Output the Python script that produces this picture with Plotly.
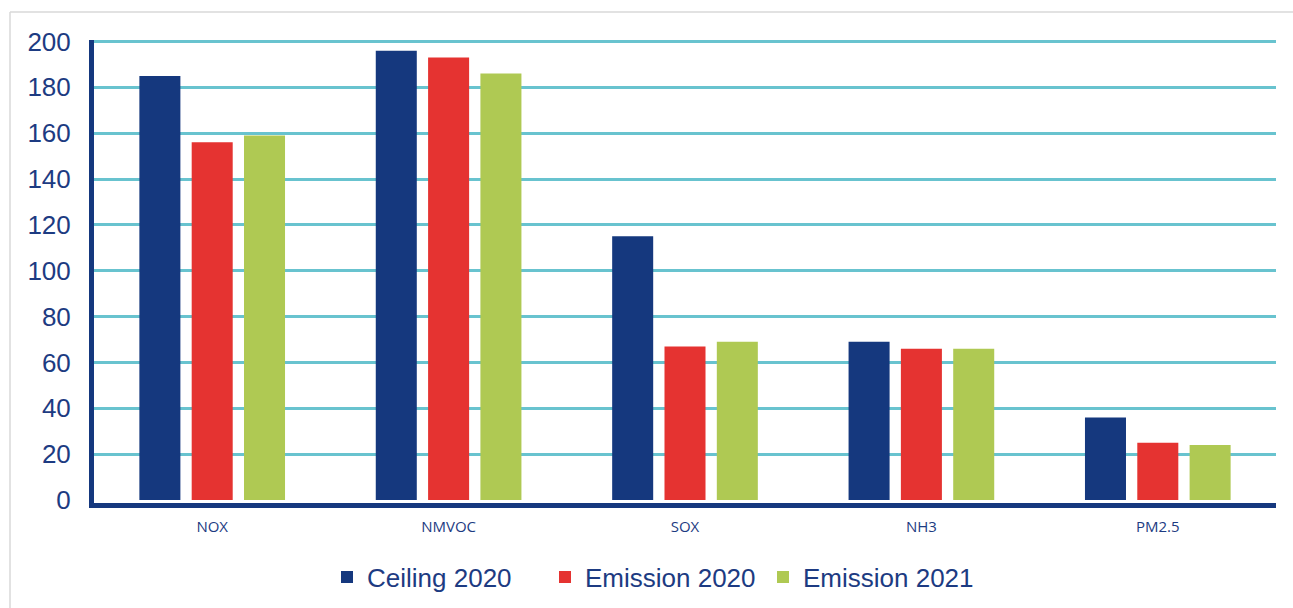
import plotly.graph_objects as go

# Pollutants and national emission figures (kt)
pollutants = ["NOX", "NMVOC", "SOX", "NH3", "PM2.5"]
ceiling_2020 = [185, 196, 115, 69, 36]
emission_2020 = [156, 193, 67, 66, 25]
emission_2021 = [159, 186, 69, 66, 24]

y_ticks = [0, 20, 40, 60, 80, 100, 120, 140, 160, 180, 200]

NAVY = "#15387e"
RED = "#e53331"
GREEN = "#afc953"
TEAL = "#68c3cf"
TEXT = "#1d3b82"

W, H = 1293, 608
L, R, T, B = 94, 17, 40, 105
plot_h = H - T - B
plot_w = W - L - R

# value axis: 200 sits at y=41.5px, 0 at y=500px, plot bottom at 503px
px_per_unit = (500 - 41.5) / 200
y_top = 200 + (41.5 - T) / px_per_unit
y_bottom = -((H - B) - 500) / px_per_unit

fig = go.Figure()
for name, vals, col in [
    ("Ceiling 2020", ceiling_2020, NAVY),
    ("Emission 2020", emission_2020, RED),
    ("Emission 2021", emission_2021, GREEN),
]:
    fig.add_trace(go.Bar(
        name=name, x=pollutants, y=vals,
        marker=dict(color=col, line=dict(width=0)),
    ))


def px_x(px):
    return (px - L) / plot_w


def px_y(py):
    return ((H - B) - py) / plot_h


# light frame around the chart (top and left edges)
frame = dict(color="#d9d9d9", width=1.5)
fig.add_shape(type="line", xref="paper", yref="paper",
              x0=px_x(10), x1=px_x(W), y0=px_y(12), y1=px_y(12), line=frame)
fig.add_shape(type="line", xref="paper", yref="paper",
              x0=px_x(10), x1=px_x(10), y0=px_y(12), y1=px_y(H), line=frame)

fig.update_layout(
    width=W, height=H,
    margin=dict(l=L, r=R, t=T, b=B, autoexpand=False),
    paper_bgcolor="white", plot_bgcolor="white",
    barmode="group", bargap=0.336, bargroupgap=0.216,
    font=dict(family="Liberation Sans, Arial, sans-serif", color=TEXT),
    showlegend=True,
    legend=dict(
        orientation="h", x=px_x(327), xanchor="left",
        y=px_y(577), yanchor="middle",
        entrywidth=173, entrywidthmode="pixels",
        font=dict(size=26, color=TEXT, family="Liberation Sans, Arial, sans-serif"),
        bgcolor="rgba(0,0,0,0)",
    ),
    xaxis=dict(
        showline=True, linecolor=NAVY, linewidth=5,
        showgrid=False, ticks="", ticklabelstandoff=6,
        tickfont=dict(size=15, color=TEXT, family="Open Sans, sans-serif"),
    ),
    yaxis=dict(
        range=[y_bottom, y_top], tickvals=y_ticks,
        showline=True, linecolor=NAVY, linewidth=5,
        showgrid=True, gridcolor=TEAL, gridwidth=2.5,
        zeroline=True, zerolinecolor="rgba(0,0,0,0)",
        ticks="", ticklabelstandoff=13,
        tickfont=dict(size=26, color=TEXT, family="Liberation Sans, Arial, sans-serif"),
    ),
)

fig.write_html("out.html")
